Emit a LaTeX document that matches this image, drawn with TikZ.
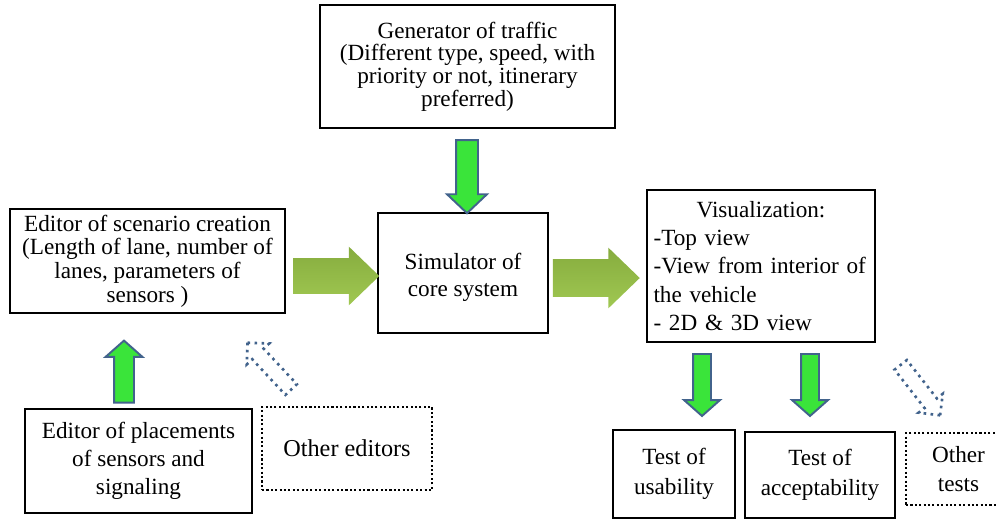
\documentclass[tikz,border=0pt]{standalone}
\usepackage{fontspec}
\setmainfont{Liberation Serif}
\usepackage{tikz}
\usetikzlibrary{shapes.arrows}
\definecolor{arrowgreen}{RGB}{58,228,58}
\definecolor{arrowblue}{RGB}{66,99,140}
\definecolor{olivetop}{RGB}{134,172,62}
\definecolor{olivebot}{RGB}{160,200,82}

\begin{document}
\begin{tikzpicture}
            [x=0.02cm,y=-0.02cm,
             every node/.style={font=\fontsize{13.2}{16}\selectfont},
             box/.style={draw,line width=1.3pt,align=center},
             dotbox/.style={draw,line width=1.2pt,dash pattern=on 1.2pt off 1.3pt,align=center},
             greenarrow/.style={single arrow,draw=arrowblue,line width=1.1pt,fill=arrowgreen,inner xsep=0pt},
             bigarrow/.style={single arrow,top color=olivetop,bottom color=olivebot,inner xsep=0pt,single arrow tip angle=88},
             hollowarrow/.style={single arrow,draw=arrowblue,line width=1.5pt,dash pattern=on 1.5pt off 2.5pt,inner xsep=0pt,inner ysep=0.13cm,single arrow head extend=0.15cm,single arrow tip angle=90,minimum height=1.28cm}]
            \useasboundingbox (0,0) rectangle (996,518);
            \node[box,minimum width=5.9cm,minimum height=2.46cm,font=\fontsize{13.2}{12.9}\selectfont] (gen) at (467.5,66.5) {Generator of traffic\\(Different type, speed, with\\priority or not, itinerary\\preferred)};
            \node[box,minimum width=5.5cm,minimum height=1.96cm,font=\fontsize{13.2}{13.4}\selectfont] (scen) at (147.5,261) {Editor of scenario creation\\(Length of lane, number of\\lanes, parameters of\\sensors )};
            \node[box,minimum width=3.4cm,minimum height=2.4cm,font=\fontsize{13.2}{15.4}\selectfont] (sim) at (463,273) {\rule{0pt}{14pt}Simulator of\\core system};
            \node[box,minimum width=4.56cm,minimum height=3.04cm,text width=4.3cm,inner xsep=0.13cm,align=left] (vis) at (761,266) {\hspace*{\fill}Visualization:\hspace*{\fill}\mbox{}\\-Top view\\-View from interior of\\the vehicle\\- 2D \& 3D view};
            \node[box,minimum width=4.54cm,minimum height=2.08cm] (place) at (138.5,461) {Editor of placements\\of sensors and\\signaling};
            \node[dotbox,minimum width=3.4cm,minimum height=1.66cm,font=\fontsize{13.8}{16}\selectfont] (othed) at (347,448.5) {Other editors};
            \node[box,minimum width=2.44cm,minimum height=1.76cm,font=\fontsize{13.2}{17}\selectfont] (usab) at (674,474) {Test of\\usability};
            \node[box,minimum width=3.0cm,minimum height=1.72cm,font=\fontsize{13.2}{17}\selectfont] (accep) at (820,475) {Test of\\acceptability};
            \node[dotbox,minimum width=2.1cm,minimum height=1.44cm] (othtest) at (958.5,469) {Other\\tests};
            %
            \node[greenarrow,rotate=-90,minimum height=1.46cm,inner ysep=0.2cm,single arrow head extend=0.18cm,single arrow tip angle=93] (a1) at (467,171.5) {};
            \node[bigarrow,minimum height=1.72cm,inner ysep=0.35cm,single arrow head extend=0.23cm] (b1) at (327,276) {};
            \node[bigarrow,minimum height=1.74cm,inner ysep=0.37cm,single arrow head extend=0.23cm] (b2) at (586.5,278) {};
            \node[greenarrow,rotate=90,minimum height=1.24cm,inner ysep=0.18cm,single arrow head extend=0.17cm,single arrow tip angle=97] (a2) at (124,376) {};
            \node[greenarrow,rotate=-90,minimum height=1.24cm,inner ysep=0.16cm,single arrow head extend=0.18cm,single arrow tip angle=97] (a3) at (702,381) {};
            \node[greenarrow,rotate=-90,minimum height=1.24cm,inner ysep=0.16cm,single arrow head extend=0.18cm,single arrow tip angle=97] (a4) at (810,381) {};
            %
            \node[hollowarrow,rotate=133] (h1) at (272,369) {};
            \node[hollowarrow,rotate=-52] (h2) at (918,387) {};
        \end{tikzpicture}
\end{document}
